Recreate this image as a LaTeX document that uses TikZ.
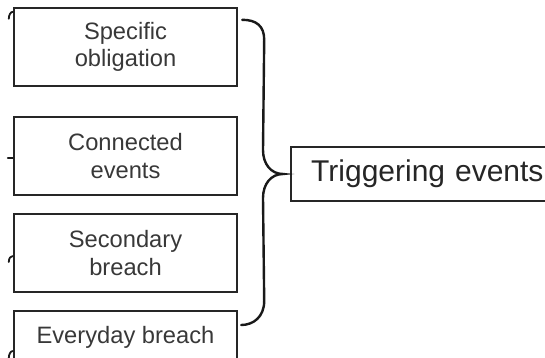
\documentclass[tikz,border=0pt]{standalone}
\usepackage{fontspec}
\setmainfont{Liberation Sans}
\usepackage{tikz}
\usetikzlibrary{calc}

\tikzset{
  evbox/.style={draw=black!85, line width=2.4pt, rectangle, minimum width=223pt, minimum height=78pt, inner sep=0pt, align=center, text=black!78, font=\fontsize{23.7}{27.5}\selectfont},
  trigbox/.style={draw=black!85, line width=2.4pt, rectangle, text width=250pt, align=left, inner xsep=20pt, minimum height=54pt, anchor=west, text=black!85, font=\fontsize{30}{34}\selectfont},
  bracket/.style={draw=black!90, line width=2.4pt, line cap=round}
}

\begin{document}
\begin{tikzpicture}[x=1pt,y=1pt,yscale=-1]
\useasboundingbox (0,0) rectangle (545,357);

%Shape: Rectangle [id:spec]
\node[evbox] (spec) at (125.5,47) {Specific\\obligation};
%Shape: Rectangle [id:conn]
\node[evbox] (conn) at (125.5,156) {Connected\\events};
%Shape: Rectangle [id:sec]
\node[evbox] (sec) at (125.5,253) {Secondary\\breach};
%Shape: Rectangle [id:every]
\node[evbox, minimum height=52pt, anchor=north] (every) at (125.5,310) {\raisebox{-2pt}{Everyday breach}};
%Shape: Rectangle [id:trig]
\node[trigbox] (trig) at (290,174) {Triggering events};

%Shape: Brace
\coordinate (bt) at ($(spec.north east)+(4,13)$);
\coordinate (bb) at ($(every.north east)+(3,15)$);
\coordinate (tip) at ($(trig.west)+(-7,0)$);
\draw[bracket] (bt) .. controls ($(bt)+(14,0)$) and ($(bt)+(22,6)$) .. ($(bt)+(22,20)$)
  -- ($(tip)+(-20,-24)$) .. controls ($(tip)+(-20,-10)$) and ($(tip)+(-12,0)$) .. (tip)
  .. controls ($(tip)+(-12,0)$) and ($(tip)+(-20,10)$) .. ($(tip)+(-20,24)$)
  -- ($(bb)+(23,-24)$) .. controls ($(bb)+(23,-8)$) and ($(bb)+(12,0)$) .. (bb);

%Shape: left stubs
\draw[bracket, line width=1.8pt] ($(spec.north west)+(-4,12)$) .. controls ($(spec.north west)+(-4,8)$) and ($(spec.north west)+(-2,5)$) .. ($(spec.north west)+(0,5)$);
\draw[bracket, line width=1.8pt] ($(conn.west)+(-5,2)$) -- (conn.west |- 0,158);
\draw[bracket, line width=1.8pt] ($(sec.west)+(-4,9)$) .. controls ($(sec.west)+(-4,5)$) and ($(sec.west)+(-2,3)$) .. ($(sec.west)+(0,3)$);
\draw[bracket, line width=1.8pt] ($(every.north west)+(-4,48)$) .. controls ($(every.north west)+(-4,44)$) and ($(every.north west)+(-2,41)$) .. ($(every.north west)+(0,41)$);

\end{tikzpicture}
\end{document}
